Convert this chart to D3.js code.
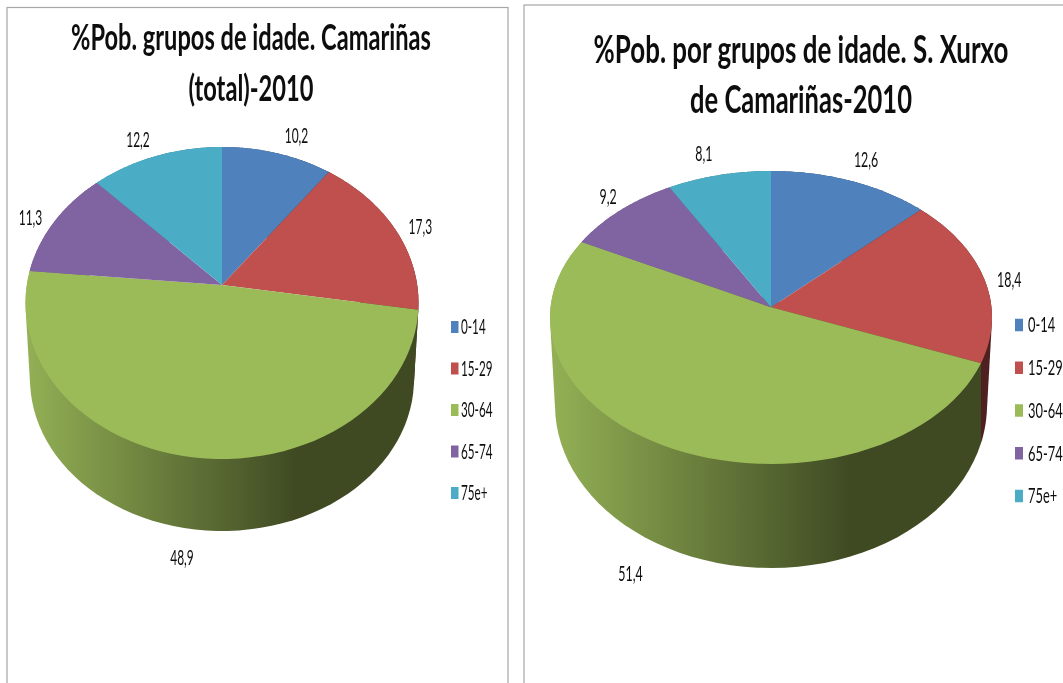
<!DOCTYPE html>
<html><head><meta charset="utf-8">
<script src="https://cdn.jsdelivr.net/npm/d3@7/dist/d3.min.js"></script>
<style>html,body{margin:0;padding:0;background:#fff;overflow:hidden}svg{display:block}text{font-family:Lato,"Noto Sans",sans-serif;fill:#111}</style>
</head><body>
<svg id="c" width="1063" height="683" role="img"></svg>
<script>
const categories = ["0-14","15-29","30-64","65-74","75e+"];
const colors = ["#4f81bd","#c0504d","#9bbb59","#8064a2","#4bacc6"];
const darkColors = ["#27405e","#4f2020","#3f4a23","#40325a","#255662"];
const lightColors = ["#4f81bd","#c0504d","#93b055","#8064a2","#4bacc6"];
const camarinasValues = [10.2,17.3,48.9,11.3,12.2];
const xurxoValues = [12.6,18.4,51.4,9.2,8.1];
const camarinasTitle = ["%Pob. grupos de idade. Camariñas","(total)-2010"];
const xurxoTitle = ["%Pob. por grupos de idade. S. Xurxo","de Camariñas-2010"];

const charts = [
 {id:"a",values:camarinasValues,title:camarinasTitle,
  box:[7,7.5,501,690],
  top:{cx:222,cy:303,rx:196.5,ry:156},bottom:{cx:222,cy:379,rx:192,ry:152},k:0.1154,kB:0.1154,
  gradX:[26,296],
  titleFont:37,titleX:251,titleY:[50,101],titleW:[360,125],
  labelFont:21,labelSx:0.57,
  labelOff:[[19,-18],[25,-3],[-13,28],[-24,-4],[-18,-17]],
  legend:{x:451,w:7.5,h:12,textX:461,y0:327,y1:493,font:20.5,sx:0.57}},
 {id:"b",values:xurxoValues,title:xurxoTitle,
  box:[524,5,560,700],
  top:{cx:771,cy:317.5,rx:221,ry:146.5},bottom:{cx:771,cy:405,rx:216,ry:163},k:0.07,kB:0.15,
  gradX:[552,850],
  titleFont:38,titleX:801,titleY:[63,113],titleW:[415,222],
  labelFont:21,labelSx:0.59,
  labelOff:[[15,-22],[25,0],[-37,25],[-12,-13.5],[-15,-22]],
  legend:{x:1015,w:8,h:12.5,textX:1028,y0:325,y1:496,font:20.5,sx:0.63}}
];

const svg = d3.select("#c");
const defs = svg.append("defs");
defs.append("filter").attr("id","soft").append("feGaussianBlur").attr("stdDeviation",0.35);
const pie = d3.pie().sort(null);

function rimPoint(e,k,a){
  const X=Math.sin(a),Y=Math.cos(a),w=1+k*Y,s=Math.sqrt(1-k*k);
  return [e.cx+e.rx*s*X/w, e.cy-e.ry*k-e.ry*(1-k*k)*Y/w];
}
const lineGen=d3.line();

charts.forEach(ch=>{
  const g=svg.append("g").attr("class","chart-"+ch.id);
  g.append("rect").attr("x",ch.box[0]).attr("y",ch.box[1]).attr("width",ch.box[2]).attr("height",ch.box[3])
    .attr("fill","#fff").attr("stroke","#a6a6a6").attr("stroke-width",1.2);
  const arcs=pie(ch.values);
  categories.forEach((c,i)=>{
    const gr=defs.append("linearGradient").attr("id",`wall-${ch.id}-${i}`).attr("gradientUnits","userSpaceOnUse")
      .attr("x1",ch.gradX[0]).attr("x2",ch.gradX[1]).attr("y1",0).attr("y2",0);
    gr.append("stop").attr("offset",0).attr("stop-color",lightColors[i]);
    gr.append("stop").attr("offset",1).attr("stop-color",darkColors[i]);
  });
  const samples=(d)=>d3.range(0,61).map(t=>d.startAngle+(d.endAngle-d.startAngle)*t/60);
  // side walls: the hull of each slice's top and bottom rim gives a straight silhouette
  g.append("g").selectAll("path").data(arcs).join("path")
    .attr("fill",(d,i)=>`url(#wall-${ch.id}-${i})`)
    .attr("d",d=>{
      const as=samples(d);
      return lineGen(d3.polygonHull(as.map(a=>rimPoint(ch.top,ch.k,a)).concat(as.map(a=>rimPoint(ch.bottom,ch.kB,a)))))+"Z";
    });
  // top faces
  const apexY=ch.top.cy-ch.top.ry*ch.k;
  g.append("g").selectAll("path").data(arcs).join("path")
    .attr("fill",(d,i)=>colors[i])
    .attr("d",d=>lineGen([[ch.top.cx,apexY]].concat(samples(d).map(a=>rimPoint(ch.top,ch.k,a))))+"Z");
  const txt=g.append("g").attr("filter","url(#soft)");
  // value labels
  txt.append("g").selectAll("text").data(arcs).join("text")
    .attr("text-anchor","middle").attr("font-size",ch.labelFont)
    .attr("transform",(d,i)=>{
      const m=(d.startAngle+d.endAngle)/2;
      const frontal=Math.cos(m)<-0.5;
      const p=frontal?rimPoint(ch.bottom,ch.kB,m):rimPoint(ch.top,ch.k,m);
      const o=ch.labelOff[i];
      return `translate(${p[0]+o[0]},${p[1]+o[1]+ch.labelFont*0.36}) scale(${ch.labelSx},1)`;
    })
    .text(d=>String(d.data).replace(".",","));
  // title
  txt.append("g").selectAll("text").data(ch.title).join("text")
    .attr("text-anchor","middle").attr("font-size",ch.titleFont).attr("font-weight",700)
    .text(d=>d)
    .attr("transform",function(d,i){
      const sx=ch.titleW[i]/this.getComputedTextLength();
      return `translate(${ch.titleX},${ch.titleY[i]}) scale(${sx},1)`;
    });
  // legend
  const ly=d3.scalePoint().domain(categories).range([ch.legend.y0,ch.legend.y1]);
  const lg=g.append("g").selectAll("g").data(categories).join("g")
    .attr("transform",d=>`translate(0,${ly(d)})`);
  lg.append("rect").attr("x",ch.legend.x).attr("y",-ch.legend.h/2).attr("width",ch.legend.w).attr("height",ch.legend.h)
    .attr("fill",(d,i)=>colors[i]);
  lg.append("text").attr("font-size",ch.legend.font).attr("filter","url(#soft)")
    .attr("transform",`translate(${ch.legend.textX},${ch.legend.font*0.36}) scale(${ch.legend.sx},1)`)
    .text(d=>d);
});
</script>
</body></html>
